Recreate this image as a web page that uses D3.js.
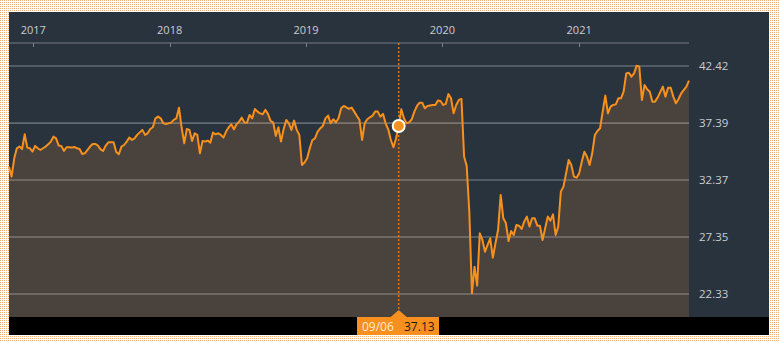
<!DOCTYPE html>
<html><head><meta charset="utf-8">
<script src="https://cdn.jsdelivr.net/npm/d3@7"></script>
<style>html,body{margin:0;padding:0;background:#fff;}svg{display:block;}</style>
</head><body>
<script>
const dates = [
"2016-10-28","2016-11-04","2016-11-11","2016-11-18","2016-11-25","2016-12-02","2016-12-09","2016-12-16","2016-12-23","2016-12-30",
"2017-01-06","2017-01-13","2017-01-20","2017-01-27","2017-02-03","2017-02-10","2017-02-17","2017-02-24","2017-03-03","2017-03-10",
"2017-03-17","2017-03-24","2017-03-31","2017-04-07","2017-04-14","2017-04-21","2017-04-28","2017-05-05","2017-05-12","2017-05-19",
"2017-06-02","2017-06-09","2017-06-16","2017-06-23","2017-06-30","2017-07-07","2017-07-14","2017-07-21","2017-08-04","2017-08-11",
"2017-08-18","2017-08-25","2017-09-01","2017-09-08","2017-09-15","2017-09-22","2017-09-29","2017-10-06","2017-10-20","2017-10-27",
"2017-11-03","2017-11-10","2017-11-17","2017-11-24","2017-12-01","2017-12-08","2017-12-15","2017-12-22",
"2018-01-05","2018-01-12","2018-01-19","2018-01-26","2018-02-02","2018-02-09","2018-02-16","2018-02-23","2018-03-02","2018-03-09",
"2018-03-16","2018-03-23","2018-03-30","2018-04-06","2018-04-13","2018-04-20","2018-04-27","2018-05-04","2018-05-11","2018-05-18",
"2018-05-25","2018-06-01","2018-06-08","2018-06-15","2018-06-22","2018-06-29","2018-07-06","2018-07-13","2018-07-20","2018-07-27",
"2018-08-03","2018-08-10","2018-08-17","2018-08-24","2018-08-31","2018-09-07","2018-09-14","2018-09-21","2018-09-28","2018-10-05",
"2018-10-12","2018-10-19","2018-10-26","2018-11-02","2018-11-09","2018-11-16","2018-11-23","2018-11-30","2018-12-07","2018-12-14",
"2018-12-21","2018-12-28",
"2019-01-04","2019-01-11","2019-01-18","2019-01-25","2019-02-01","2019-02-08","2019-02-15","2019-02-22","2019-03-01","2019-03-08",
"2019-03-15","2019-03-22","2019-03-29","2019-04-05","2019-04-12","2019-04-19","2019-04-26","2019-05-03","2019-05-10","2019-05-17",
"2019-05-24","2019-05-31","2019-06-07","2019-06-14","2019-06-21","2019-06-28","2019-07-05","2019-07-12","2019-07-19","2019-07-26",
"2019-08-02","2019-08-09","2019-08-16","2019-08-23","2019-08-30","2019-09-06","2019-09-13","2019-09-20","2019-09-27","2019-10-04",
"2019-10-11","2019-10-18","2019-10-25","2019-11-01","2019-11-08","2019-11-15","2019-11-22","2019-12-06","2019-12-13","2019-12-20",
"2019-12-27",
"2020-01-03","2020-01-10","2020-01-17","2020-01-24","2020-01-31","2020-02-07","2020-02-14","2020-02-21","2020-02-28","2020-03-06",
"2020-03-13","2020-03-20","2020-03-27","2020-04-03","2020-04-10","2020-04-17","2020-04-24","2020-05-01","2020-05-08","2020-05-15",
"2020-05-22","2020-05-29","2020-06-05","2020-06-12","2020-06-19","2020-06-26","2020-07-03","2020-07-10","2020-07-17","2020-07-24",
"2020-07-31","2020-08-07","2020-08-14","2020-08-21","2020-08-28","2020-09-04","2020-09-11","2020-09-18","2020-09-25","2020-10-02",
"2020-10-09","2020-10-16","2020-10-23","2020-10-30","2020-11-06","2020-11-13","2020-11-20","2020-11-27","2020-12-04","2020-12-11",
"2020-12-18","2020-12-25",
"2021-01-01","2021-01-08","2021-01-15","2021-01-22","2021-01-29","2021-02-05","2021-02-12","2021-02-19","2021-02-26","2021-03-05",
"2021-03-12","2021-03-19","2021-03-26","2021-04-02","2021-04-09","2021-04-16","2021-04-23","2021-04-30","2021-05-07","2021-05-14",
"2021-05-21","2021-05-28","2021-06-04","2021-06-11","2021-06-18","2021-06-25","2021-07-02","2021-07-09","2021-07-16","2021-07-23",
"2021-07-30","2021-08-13","2021-08-20","2021-08-27","2021-09-03","2021-09-10","2021-09-17","2021-09-24","2021-10-01","2021-10-15",
"2021-10-22"
];
const values = [
33.55,32.67,34.29,35.17,35.32,35.11,36.40,35.23,35.17,34.88,
35.38,35.17,35.02,35.17,35.32,35.52,35.76,36.20,36.05,35.41,
35.38,34.94,35.26,35.26,35.23,35.29,35.17,35.11,34.67,34.73,
35.32,35.55,35.55,35.41,35.08,34.94,35.41,35.70,35.70,34.85,
34.64,35.32,35.46,35.76,36.11,35.91,36.05,36.35,36.79,36.35,
36.49,36.87,37.02,37.81,37.96,37.81,37.37,37.31,
37.43,37.67,37.81,38.75,37.00,35.61,36.87,36.79,35.82,36.49,
36.35,34.73,35.82,35.76,35.85,35.67,36.55,36.40,36.49,36.35,
36.11,36.64,37.02,37.29,36.84,37.29,37.52,37.87,37.45,37.43,
38.11,37.81,38.64,38.40,38.25,38.17,38.55,38.20,37.58,37.46,
36.26,37.02,35.76,36.84,37.67,37.37,36.79,37.61,36.79,36.35,
33.70,33.91,
34.29,35.17,35.90,36.05,36.64,36.93,37.14,37.81,38.05,37.37,
37.73,37.46,37.81,38.69,38.90,38.78,38.64,38.75,38.40,38.02,
37.67,35.90,37.37,37.73,37.90,38.05,38.40,38.40,37.96,38.20,
37.37,36.84,35.90,35.26,36.05,37.13,38.61,37.81,37.37,37.46,
37.73,38.40,38.90,39.19,39.19,38.69,38.90,38.99,38.99,39.37,
39.34,
38.99,39.08,39.96,39.58,38.25,38.99,39.43,39.52,34.44,33.60,
29.59,22.39,24.74,23.07,27.68,27.09,26.06,26.65,27.24,25.53,
26.80,27.97,31.06,29.00,28.56,27.00,27.88,27.53,28.41,28.35,
28.06,28.71,29.15,28.27,29.00,29.00,28.35,28.35,27.09,28.12,
29.15,28.79,29.35,27.53,28.27,31.35,31.79,32.96,34.14,33.70,
32.67,32.58,
32.96,33.99,34.87,34.43,33.70,34.73,36.34,36.69,36.93,38.40,
39.81,38.25,38.84,38.99,39.04,39.57,39.57,40.16,41.77,41.83,
41.48,41.77,42.45,42.36,39.42,40.75,40.37,40.16,39.28,39.28,
39.63,40.60,39.72,40.51,40.51,39.72,39.13,39.51,40.01,40.60,
41.13
];
const yTicks = [22.33, 27.35, 32.37, 37.39, 42.42];
const hoverDate = "2019-09-06";
const hoverValue = 37.13;
const hoverLabel = "09/06";

const W = 779, H = 342;
const parse = d3.timeParse("%Y-%m-%d");
const data = dates.map((d, i) => ({date: parse(d), value: values[i]}));

const svg = d3.select("body").append("svg").attr("width", W).attr("height", H);
const defs = svg.append("defs");
const pat = defs.append("pattern").attr("id", "dots").attr("width", 2).attr("height", 2).attr("patternUnits", "userSpaceOnUse");
pat.append("rect").attr("width", 2).attr("height", 2).attr("fill", "#ffffff");
pat.append("rect").attr("width", 1).attr("height", 1).attr("fill", "#efac74");
svg.append("rect").attr("width", W).attr("height", H).attr("fill", "url(#dots)");

const panel = {x: 9, y: 12, w: 760, h: 323};
svg.append("rect").attr("x", panel.x).attr("y", panel.y).attr("width", panel.w).attr("height", panel.h).attr("fill", "#29333e");

const plotL = 9, plotR = 689, plotT = 43, plotB = 317;
const x = d3.scaleTime().domain([data[0].date, data[data.length - 1].date]).range([plotL, plotR]);
const y = d3.scaleLinear().domain([22.33, 42.42]).range([294, 66]);

// area
const area = d3.area().x(d => x(d.date)).y0(plotB).y1(d => y(d.value));
svg.append("path").datum(data).attr("d", area).attr("fill", "#4a423c");

// grid lines
svg.append("g").selectAll("line").data(yTicks).join("line")
  .attr("x1", plotL).attr("x2", plotR)
  .attr("y1", d => y(d)).attr("y2", d => y(d))
  .attr("stroke", "rgba(255,255,255,0.27)").attr("stroke-width", 1.6);

// top axis line
svg.append("line").attr("x1", plotL).attr("x2", plotR).attr("y1", plotT).attr("y2", plotT)
  .attr("stroke", "#5c636b").attr("stroke-width", 1.7);

// year ticks and labels
const years = d3.timeYear.range(d3.timeYear.ceil(x.domain()[0]), x.domain()[1]);
const xa = svg.append("g");
xa.selectAll("line").data(years).join("line")
  .attr("x1", d => Math.round(x(d)) + 0.5).attr("x2", d => Math.round(x(d)) + 0.5)
  .attr("y1", plotT).attr("y2", plotT + 4)
  .attr("stroke", "#7b8188").attr("stroke-width", 1);
xa.selectAll("text").data(years).join("text")
  .attr("x", d => x(d)).attr("y", 34)
  .attr("text-anchor", "middle")
  .attr("font-family", "'Open Sans', sans-serif").attr("font-size", 11)
  .attr("fill", "#c9cdd2")
  .text(d => d3.timeFormat("%Y")(d));

// y labels
svg.append("g").selectAll("text").data(yTicks).join("text")
  .attr("x", 699).attr("y", d => y(d) + 4)
  .attr("font-family", "'Open Sans', sans-serif").attr("font-size", 11.5)
  .attr("fill", "#c9cdd2")
  .text(d => d.toFixed(2));

// line
const line = d3.line().x(d => x(d.date)).y(d => y(d.value));
svg.append("path").datum(data).attr("d", line).attr("fill", "none")
  .attr("stroke", "#f8901c").attr("stroke-width", 2).attr("stroke-linejoin", "round");

// bottom black bar
svg.append("rect").attr("x", panel.x).attr("y", plotB).attr("width", panel.w).attr("height", 335 - plotB).attr("fill", "#000");

// hover
const hx = x(parse(hoverDate));
svg.append("line").attr("x1", hx).attr("x2", hx).attr("y1", plotT).attr("y2", plotB)
  .attr("stroke", "#d9781e").attr("stroke-width", 1.5).attr("stroke-dasharray", "2,2");
svg.append("circle").attr("cx", hx).attr("cy", y(hoverValue)).attr("r", 6)
  .attr("fill", "#f7901e").attr("stroke", "#fff").attr("stroke-width", 2);

// tooltip box
const bx0 = 357, bx1 = 439;
svg.append("rect").attr("x", bx0).attr("y", plotB).attr("width", bx1 - bx0).attr("height", 335 - plotB).attr("fill", "#f7901e");
svg.append("path").attr("d", `M${hx - 8},${plotB} L${hx},${plotB - 7} L${hx + 8},${plotB} Z`).attr("fill", "#f7901e");
svg.append("text").attr("x", 362).attr("y", 331)
  .attr("font-family", "'Open Sans', sans-serif").attr("font-size", 12)
  .attr("fill", "#fde9d6").text(hoverLabel);
svg.append("text").attr("x", 404).attr("y", 331)
  .attr("font-family", "'Open Sans', sans-serif").attr("font-size", 12)
  .attr("fill", "#1b1b1b").text(hoverValue.toFixed(2));
</script>
</body></html>
